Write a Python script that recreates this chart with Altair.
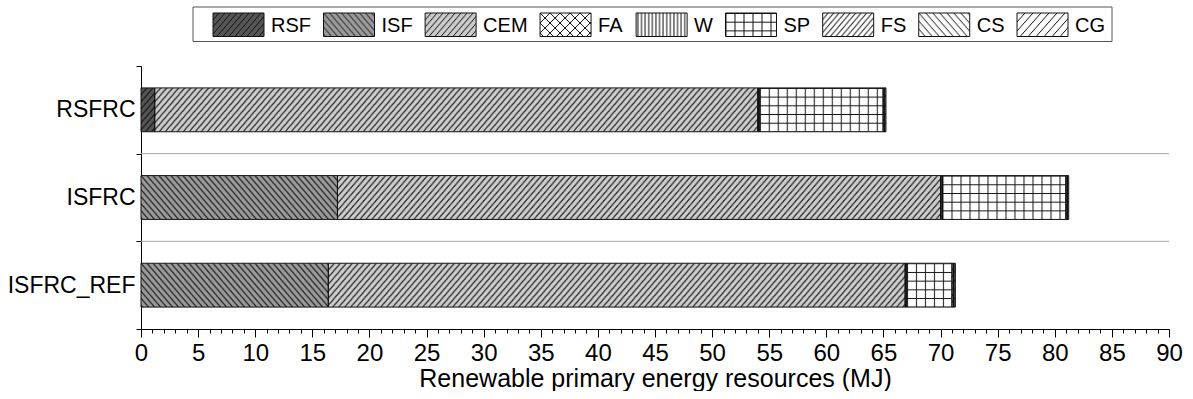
import base64

import altair as alt
import pandas as pd

# ---- data -------------------------------------------------------------
systems = ["RSFRC", "ISFRC", "ISFRC_REF"]
components = ["RSF", "ISF", "CEM", "FA", "W", "SP", "FS", "CS", "CG"]

rsf = [1.2, 0.0, 0.0]
isf = [0.0, 17.2, 16.4]
cem = [52.8, 52.8, 50.5]
fa = [0.05, 0.05, 0.05]
w = [0.12, 0.12, 0.10]
sp = [10.8, 10.8, 3.95]
fs = [0.10, 0.10, 0.12]
cs = [0.05, 0.05, 0.06]
cg = [0.10, 0.10, 0.12]

major_ticks = list(range(0, 91, 5))
minor_ticks = list(range(0, 91, 1))
x_title = "Renewable primary energy resources (MJ)"

values = {"RSF": rsf, "ISF": isf, "CEM": cem, "FA": fa, "W": w,
          "SP": sp, "FS": fs, "CS": cs, "CG": cg}

# ---- styling ----------------------------------------------------------
FONT = "Liberation Sans"
PLOT_W, PLOT_H = 1028, 263
LEG_H = 44

# background, hatch kind, tile width, tile height
HATCH = {
    "RSF": ("#555555", "/", 6, 7),
    "ISF": ("#9a9a9a", "\\", 6, 7),
    "CEM": ("#cbcbcb", "/", 6, 7),
    "FA": ("#ffffff", "x", 10, 10),
    "W": ("#ffffff", "|", 3.6, 10),
    "SP": ("#ffffff", "+", 9, 8.7),
    "FS": ("#ffffff", "/", 5.5, 6.5),
    "CS": ("#ffffff", "\\", 7, 8),
    "CG": ("#ffffff", "/", 8, 9),
}


def hatch_uri(bg, kind, pw, ph):
    """Small SVG tile pattern, returned as a data URI for an image mark."""
    d = []
    if kind in ("/", "x"):
        for n in (0, 1, 2):
            d.append(f"M{-pw},{(n + 1) * ph}L{2 * pw},{(n - 2) * ph}")
    if kind in ("\\", "x"):
        for n in (-1, 0, 1):
            d.append(f"M{-pw},{(n - 1) * ph}L{2 * pw},{(n + 2) * ph}")
    if kind == "|":
        d.append(f"M{pw / 2},0L{pw / 2},{ph}")
    if kind == "+":
        d.append(f"M0,0.5L{pw},0.5M0.5,0L0.5,{ph}")
    svg = (
        '<svg xmlns="http://www.w3.org/2000/svg">'
        f'<defs><pattern id="h" width="{pw}" height="{ph}" patternUnits="userSpaceOnUse">'
        f'<path d="{"".join(d)}" stroke="#111" stroke-width="1" fill="none"/>'
        "</pattern></defs>"
        f'<rect width="100%" height="100%" fill="{bg}"/>'
        '<rect width="100%" height="100%" fill="url(#h)"/>'
        "</svg>"
    )
    return "data:image/svg+xml;base64," + base64.b64encode(svg.encode()).decode()


URLS = {c: hatch_uri(*HATCH[c]) for c in components}

# ---- stacked segments -------------------------------------------------
rows = []
for i, s in enumerate(systems):
    start = 0.0
    for comp in components:
        v = values[comp][i]
        if v > 0:
            rows.append(dict(system=s, component=comp, value=v,
                             start=start, end=start + v, url=URLS[comp]))
        start += v
bars = pd.DataFrame(rows)

# ---- main panel -------------------------------------------------------
yscale = alt.Scale(domain=systems, paddingInner=0, paddingOuter=0)
xscale = alt.Scale(domain=[0, 90], nice=False, zero=True)

major_test = f"indexof({major_ticks}, datum.value) >= 0"
x_axis = alt.Axis(
    values=minor_ticks,
    labelExpr=f"{major_test} ? datum.label : ''",
    tickSize={"condition": {"test": major_test, "value": 8}, "value": 4},
    labelOverlap=False, labelFlush=False, grid=False,
    title=x_title, titleFontSize=25, titleFontWeight="normal",
    labelFontSize=24, labelPadding=4, titlePadding=1,
)
y_axis = alt.Axis(
    title=None, tickBand="extent", tickSize=5, labelPadding=1,
    labelFontSize=23, grid=False,
)

separators = alt.Chart(pd.DataFrame({"system": systems[1:]})).mark_rule(
    color="#a8a8a8", strokeWidth=1
).encode(y=alt.Y("system:N", scale=yscale, bandPosition=0, axis=y_axis))

fills = alt.Chart(bars).mark_image(aspect=False, height={"band": 0.5}).encode(
    x=alt.X("start:Q", scale=xscale, axis=x_axis),
    x2="end:Q",
    y=alt.Y("system:N", scale=yscale, axis=y_axis),
    url="url:N",
)

outlines = alt.Chart(bars).mark_rect(
    fillOpacity=0, stroke="#111111", strokeWidth=1, height={"band": 0.5}
).encode(
    x=alt.X("start:Q", scale=xscale, axis=x_axis),
    x2="end:Q",
    y=alt.Y("system:N", scale=yscale, axis=y_axis),
)

main = alt.layer(separators, fills, outlines).properties(width=PLOT_W, height=PLOT_H)

# ---- patterned legend -------------------------------------------------
ADV = {"R": .722, "S": .667, "F": .611, "I": .278, "C": .722, "E": .667,
       "M": .833, "A": .667, "W": .944, "P": .667, "G": .778}
LEG_FS = 20
SW_W = 51
GAP = 12.5
cursor = 72.0
leg_rows = []
for comp in components:
    tw = sum(ADV[ch] for ch in comp) * LEG_FS
    leg_rows.append(dict(name=comp, sx0=cursor, sx1=cursor + SW_W,
                         lx=cursor + SW_W + 7, sy0=9.0, sy1=32.5, ly=21.5,
                         url=URLS[comp]))
    cursor += SW_W + 7 + tw + GAP
leg = pd.DataFrame(leg_rows)
frame = pd.DataFrame([dict(x0=52.0, x1=cursor - GAP + 7, y0=3.0, y1=37.5)])

lx = alt.Scale(domain=[0, PLOT_W], nice=False, zero=False)
ly = alt.Scale(domain=[0, LEG_H], reverse=True, nice=False, zero=False)

leg_frame = alt.Chart(frame).mark_rect(fill="white", stroke="#555555", strokeWidth=1).encode(
    x=alt.X("x0:Q", scale=lx, axis=None), x2="x1:Q",
    y=alt.Y("y0:Q", scale=ly, axis=None), y2="y1:Q",
)
leg_fill = alt.Chart(leg).mark_image(aspect=False).encode(
    x=alt.X("sx0:Q", scale=lx, axis=None), x2="sx1:Q",
    y=alt.Y("sy0:Q", scale=ly, axis=None), y2="sy1:Q",
    url="url:N",
)
leg_box = alt.Chart(leg).mark_rect(fillOpacity=0, stroke="#111111", strokeWidth=1).encode(
    x=alt.X("sx0:Q", scale=lx, axis=None), x2="sx1:Q",
    y=alt.Y("sy0:Q", scale=ly, axis=None), y2="sy1:Q",
)
leg_text = alt.Chart(leg).mark_text(
    align="left", baseline="middle", font=FONT, fontSize=LEG_FS, color="black"
).encode(
    x=alt.X("lx:Q", scale=lx, axis=None),
    y=alt.Y("ly:Q", scale=ly, axis=None),
    text="name:N",
)

legend = alt.layer(leg_frame, leg_fill, leg_box, leg_text).properties(
    width=PLOT_W, height=LEG_H
)

chart = (
    alt.vconcat(legend, main, spacing=7)
    .properties(padding={"left": 7, "top": 4, "right": 5, "bottom": 0},
                background="white")
    .configure_view(stroke=None)
    .configure_axis(
        labelFont=FONT, titleFont=FONT, labelColor="black", titleColor="black",
        domainColor="black", tickColor="black", domainWidth=1, tickWidth=1,
    )
)

chart.save("out.html", embed_options={"renderer": "svg", "actions": False})
